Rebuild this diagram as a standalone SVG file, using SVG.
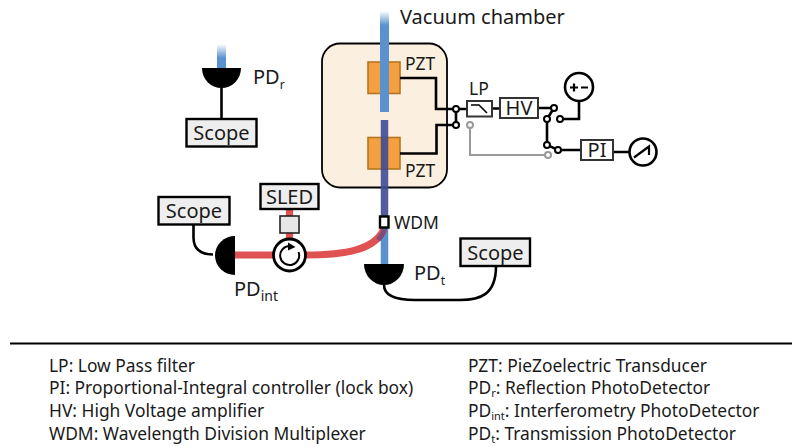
<svg xmlns="http://www.w3.org/2000/svg" width="792" height="447" viewBox="0 0 792 447">
<style>
text{font-family:"Noto Sans","Open Sans","Liberation Sans",sans-serif;fill:#1a1a1a}
.l{font-size:17.4px}
.b{font-size:20px}
.m{font-size:17.5px}
.s{font-size:12px}
.t{font-size:11px}
.w{fill:none;stroke:#000;stroke-width:2.6}
.box{fill:#eee;stroke:#000;stroke-width:2.4}
.wb{fill:#fff;stroke:#333;stroke-width:2}
.n{fill:#fff;stroke:#000;stroke-width:2}
.g{fill:#fff;stroke:#999;stroke-width:2}
.pzt{fill:#f4a040;stroke:#b5761f;stroke-width:1.6}
</style>
<defs>
<linearGradient id="fade" x1="0" y1="0" x2="0" y2="1"><stop offset="0" stop-color="#5a92cf" stop-opacity="0"/><stop offset="1" stop-color="#5a92cf"/></linearGradient>
</defs>
<g id="chamber">
<rect x="322" y="43.5" width="125" height="144" rx="18" fill="#fbefe0" stroke="#000" stroke-width="1.8"/>
<text class="m" x="405" y="70">PZT</text>
<text class="m" x="405" y="177">PZT</text>
</g>
<g id="pzt-upper"><rect class="pzt" x="368" y="62" width="32" height="31.5"/></g>
<g id="pzt-lower"><rect class="pzt" x="368" y="137.500" width="32" height="31.500"/></g>
<g id="connectors">
<path d="M380 11h9v14h-9z" fill="url(#fade)"/>
<path d="M380 25h9v87h-9z" fill="#5a92cf"/>
<path d="M384.500 228V264" stroke="#5a92cf" stroke-width="7.500" fill="none"/>
<path d="M384.500 120V228" stroke="#3f4a94" stroke-width="7.500" fill="none" stroke-opacity=".9"/>
<path d="M217 44h9v14h-9z" fill="url(#fade)"/>
<path d="M217 58h9v11h-9z" fill="#5a92cf"/>
<path d="M235 255H273M305 255C345 255 375 250 384 229M289.500 209V240" stroke="#e05252" stroke-width="7.200" fill="none"/>
<path d="M378 240Q383 235 385 228" stroke="#3f4a94" stroke-width="5" fill="none" stroke-opacity=".6"/>
<path class="w" d="M400 78H436V109H456M400 153.500H436.500V125H456M456 109V125M456 109H467M492 108.500H500M538 108H554L547 119V145L558 150H581M560 119H579V100M613 152H630M221.500 88V119M193.500 224V238Q194 254.500 213 254.500M384 285C384 295 395 300 415 300H460C480 300 496 295 496 266"/>
<path d="M470 125V155H548" fill="none" stroke="#999" stroke-width="2"/>
<circle class="n" cx="456" cy="109" r="3"/>
<circle class="n" cx="456" cy="125" r="3"/>
<circle class="n" cx="554" cy="108" r="3"/>
<circle class="n" cx="547" cy="119" r="3"/>
<circle class="n" cx="560" cy="119" r="3"/>
<circle class="n" cx="547" cy="145" r="3"/>
<circle class="n" cx="558" cy="150" r="3"/>
<circle class="g" cx="470" cy="125" r="3"/>
<circle class="g" cx="548" cy="155" r="3"/>
</g>
<g id="vacuum-label"><text class="b" x="400" y="24">Vacuum chamber</text></g>
<g id="lp">
<rect class="wb" x="467" y="101" width="25" height="15.500"/>
<path d="M471 105H479L487 113" fill="none" stroke="#000" stroke-width="1.600"/>
<text class="m" x="469" y="95">LP</text>
</g>
<g id="hv">
<rect class="wb" x="500" y="98" width="38" height="20"/>
<text class="b" x="519" y="115" text-anchor="middle">HV</text>
</g>
<g id="supply">
<circle cx="579" cy="87" r="14" fill="#fff" stroke="#000" stroke-width="2.600"/>
<path d="M570 87.500h8M574 83.500v8M581 87.500h7" stroke="#000" stroke-width="2.200" fill="none"/>
</g>
<g id="pi">
<rect class="wb" x="581" y="140" width="32" height="20"/>
<text class="b" x="597" y="157" text-anchor="middle">PI</text>
</g>
<g id="meter">
<circle cx="643" cy="152" r="13.500" fill="#fff" stroke="#000" stroke-width="2.600"/>
<path d="M634 157.500L649 146.500V155" fill="none" stroke="#000" stroke-width="2.200"/>
</g>
<g id="pd-r">
<path d="M202 68H241A19.500 20 0 0 1 202 68Z" fill="#000"/>
<text class="b" x="253" y="84">PD<tspan class="s" dy="5">r</tspan></text>
</g>
<g id="scope-r">
<rect class="box" x="186.500" y="119" width="70" height="27.500"/>
<text class="b" x="221.500" y="140" text-anchor="middle">Scope</text>
</g>
<g id="scope-int">
<rect class="box" x="158.500" y="197" width="71" height="27.500"/>
<text class="b" x="194" y="218" text-anchor="middle">Scope</text>
</g>
<g id="sled">
<rect class="box" x="260.500" y="184" width="58" height="25"/>
<text class="b" x="289.500" y="204" text-anchor="middle">SLED</text>
</g>
<g id="isolator"><rect x="280" y="216" width="19" height="17" fill="#e6e6e6" stroke="#222" stroke-width="1.600"/></g>
<g id="circulator">
<circle cx="289.500" cy="255" r="16" fill="#fff" stroke="#000" stroke-width="2.800"/>
<path d="M289.500 246A9.500 9.500 0 1 0 298.500 252" fill="none" stroke="#000" stroke-width="2"/>
<path d="M288 242.500L295.500 247L288 250.500Z" fill="#000"/>
</g>
<g id="pd-int">
<path d="M235 236V275A20 19.500 0 0 1 235 236Z" fill="#000"/>
<text class="b" x="234" y="296">PD<tspan dy="5" style="font-size:14px">int</tspan></text>
</g>
<g id="wdm">
<rect x="380" y="216.500" width="8.500" height="11" fill="#fff" stroke="#000" stroke-width="2.400"/>
<text class="m" x="394" y="229">WDM</text>
</g>
<g id="pd-t">
<path d="M364 264H404A20 21 0 0 1 364 264Z" fill="#000"/>
<text class="b" x="414" y="280">PD<tspan class="s" dy="5">t</tspan></text>
</g>
<g id="scope-t">
<rect class="box" x="460.500" y="238.500" width="69.500" height="27.500"/>
<text class="b" x="495.500" y="259.500" text-anchor="middle">Scope</text>
</g>
<g id="legend">
<path d="M10 343.500H792" stroke="#000" stroke-width="2" fill="none"/>
<text class="l" x="49" y="371.500">LP: Low Pass filter</text>
<text class="l" x="49" y="394.300">PI: Proportional-Integral controller (lock box)</text>
<text class="l" x="49" y="417.100">HV: High Voltage amplifier</text>
<text class="l" x="49" y="440">WDM: Wavelength Division Multiplexer</text>
<text class="l" x="468" y="371.500">PZT: PieZoelectric Transducer</text>
<text class="l" x="468" y="394.300">PD<tspan class="t" dy="3">r</tspan><tspan dy="-3">: Reflection PhotoDetector</tspan></text>
<text class="l" x="468" y="417.100">PD<tspan class="t" dy="3">int</tspan><tspan dy="-3">: Interferometry PhotoDetector</tspan></text>
<text class="l" x="468" y="440">PD<tspan class="t" dy="3">t</tspan><tspan dy="-3">: Transmission PhotoDetector</tspan></text>
</g>
</svg>
